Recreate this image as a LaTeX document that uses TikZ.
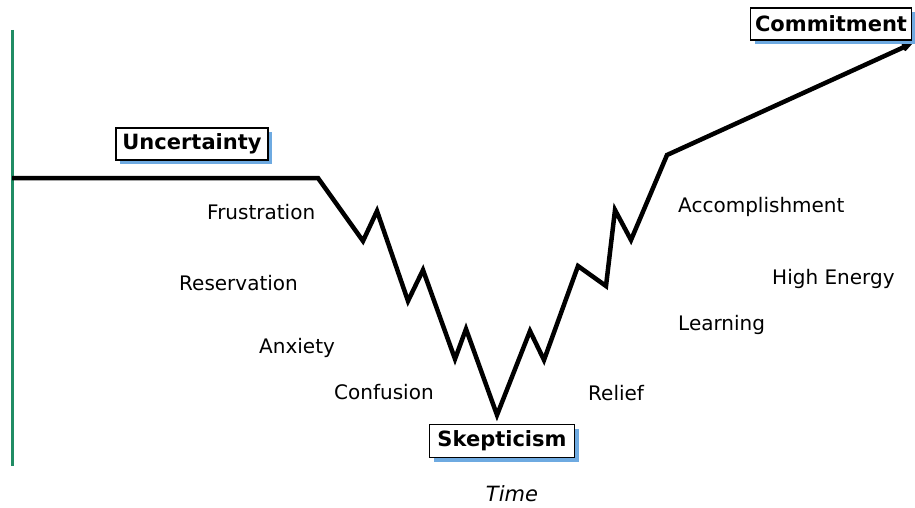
\documentclass[tikz,border=0pt]{standalone}
\usepackage{fontspec}
\setmainfont{DejaVu Sans}
\usetikzlibrary{arrows.meta}
\definecolor{axisgreen}{RGB}{32,140,100}
\definecolor{shadowblue}{RGB}{110,170,225}
\begin{document}
\begin{tikzpicture}[x=1pt,y=-1pt,
  lbl/.style={anchor=mid west,inner sep=0pt,yshift=-5pt,font=\fontsize{20}{22}\selectfont},
  stagebox/.style={draw=black,line width=1.2pt,fill=white,inner sep=0pt,
    font=\fontsize{21}{23}\selectfont\bfseries,
    minimum height=32pt},
  curve/.style={line width=4.5pt,line join=miter,miter limit=4}]
\useasboundingbox (0,0) rectangle (915,508);
% axis
\coordinate (axtop) at (12,30);
\coordinate (axbot) at (12,466);
\draw[axisgreen,line width=3pt] (axtop) -- (axbot);
% curve
\coordinate (s) at (12,178);
\coordinate (p1) at (318,178);
\coordinate (p2) at (363,241);
\coordinate (p3) at (377,211);
\coordinate (p4) at (408,301);
\coordinate (p5) at (423,270);
\coordinate (p6) at (455,359);
\coordinate (p7) at (466,329);
\coordinate (p8) at (497,415);
\coordinate (p9) at (530,331);
\coordinate (p10) at (544,360);
\coordinate (p11) at (578,266);
\coordinate (p12) at (606,286);
\coordinate (p13) at (615,210);
\coordinate (p14) at (631,240);
\coordinate (p15) at (667,155);
\coordinate (e) at (913,43);
\draw[curve,-{Stealth[length=14pt,width=12pt]}] (s) -- (p1) -- (p2) -- (p3) -- (p4) -- (p5) -- (p6) -- (p7) -- (p8) -- (p9) -- (p10) -- (p11) -- (p12) -- (p13) -- (p14) -- (p15) -- (e);
% boxes with shadows
\fill[shadowblue] (120,132) rectangle (272,164);
\node[stagebox,minimum width=152pt] (unc) at (192,144) {Uncertainty};
\fill[shadowblue] (755,12) rectangle (915,44);
\node[stagebox,minimum width=161pt] (com) at (831,24) {Commitment};
\fill[shadowblue] (434,429) rectangle (579,462);
\node[stagebox,minimum width=145pt,minimum height=33pt] (skp) at (502,441) {Skepticism};
% labels
\node[lbl] (frus) at (207,212) {Frustration};
\node[lbl] (res) at (179,283) {Reservation};
\node[lbl] (anx) at (259,346) {Anxiety};
\node[lbl] (conf) at (334,392) {Confusion};
\node[lbl] (rel) at (588,393) {Relief};
\node[lbl] (acc) at (678,205) {Accomplishment};
\node[lbl] (he) at (772,277) {High Energy};
\node[lbl] (learn) at (678,323) {Learning};
\node[inner sep=0pt,font=\fontsize{21}{23}\selectfont\itshape] (time) at (512,494) {Time};
\end{tikzpicture}
\end{document}
